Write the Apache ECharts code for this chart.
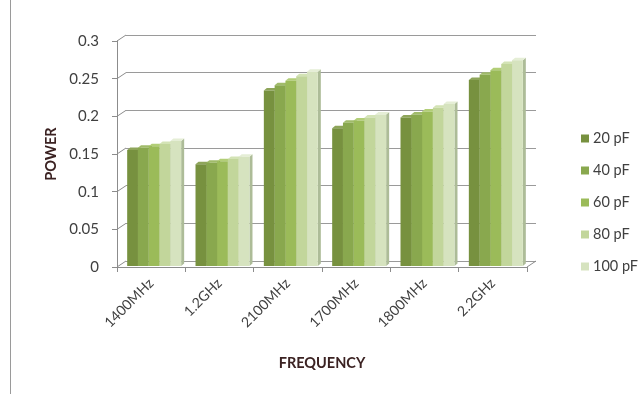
<!DOCTYPE html>
<html>
<head>
<meta charset="utf-8">
<script src="https://cdn.jsdelivr.net/npm/echarts@6/dist/echarts.min.js"></script>
<style>
  html, body { margin: 0; padding: 0; background: #ffffff; }
  #chart { width: 644px; height: 394px; }
</style>
</head>
<body>
<div id="chart"></div>
<script>
// Power per frequency band for five capacitor values
const categories = ['1400MHz', '1.2GHz', '2100MHz', '1700MHz', '1800MHz', '2.2GHz'];
const seriesNames = ['20 pF', '40 pF', '60 pF', '80 pF', '100 pF'];
const pf20  = [0.154, 0.135, 0.233, 0.183, 0.197, 0.247];
const pf40  = [0.157, 0.137, 0.240, 0.190, 0.201, 0.254];
const pf60  = [0.159, 0.139, 0.246, 0.193, 0.205, 0.260];
const pf80  = [0.162, 0.142, 0.252, 0.197, 0.210, 0.268];
const pf100 = [0.166, 0.145, 0.258, 0.201, 0.215, 0.273];
const yTicks = [0, 0.05, 0.1, 0.15, 0.2, 0.25, 0.3];

const seriesValues = [pf20, pf40, pf60, pf80, pf100];
const faceColors = ['#77913f', '#89a84e', '#9bbb59', '#c2d69b', '#d6e3bf'];
const sideColors = ['#5c7230', '#6c863c', '#7d9a45', '#9bb078', '#adbc98'];
const topColors  = ['#8ea55a', '#a0bb6a', '#b2ce77', '#d3e3b5', '#e5eed6'];

const FONT = 'Lato, "Open Sans", sans-serif';
const AXIS_GREY = '#8c8c8c';
// depth of the chart box and of each column
const WALL_DX = 9, WALL_DY = -6;
const BAR_DX = 3, BAR_DY = -1;
const DEPTH_X = 3, DEPTH_Y = -2.5;

function columnRenderer(s) {
  return function (params, api) {
    const ci = api.value(0);
    const v = api.value(1);
    const base = api.coord([ci, 0]);
    const top = api.coord([ci, v]);
    const band = api.size([1, 0])[0];
    const group = band * 0.79;
    const w = group / 5;
    const x0 = base[0] - group / 2 + s * w + BAR_DX;
    const x1 = x0 + w;
    const yb = base[1] + BAR_DY;
    const yt = top[1] + BAR_DY;
    return {
      type: 'group',
      children: [
        {
          type: 'polygon',
          shape: { points: [[x1, yt], [x1 + DEPTH_X, yt + DEPTH_Y], [x1 + DEPTH_X, yb + DEPTH_Y], [x1, yb]] },
          style: { fill: sideColors[s] }
        },
        {
          type: 'polygon',
          shape: { points: [[x0, yt], [x0 + DEPTH_X, yt + DEPTH_Y], [x1 + DEPTH_X, yt + DEPTH_Y], [x1, yt]] },
          style: { fill: topColors[s] }
        },
        {
          type: 'rect',
          shape: { x: x0, y: yt, width: w, height: yb - yt },
          style: { fill: faceColors[s] }
        }
      ]
    };
  };
}

// short diagonals joining the front axis to the back wall, plus the floor's right edge
function connectorRenderer(params, api) {
  const v = api.value(1);
  const cs = params.coordSys;
  const y = api.coord([0, v])[1];
  const children = [{
    type: 'line',
    shape: { x1: cs.x, y1: y, x2: cs.x + WALL_DX, y2: y + WALL_DY },
    style: { stroke: AXIS_GREY, lineWidth: 1 }
  }];
  if (v === 0) {
    children.push({
      type: 'line',
      shape: { x1: cs.x + cs.width, y1: y, x2: cs.x + cs.width + WALL_DX, y2: y + WALL_DY },
      style: { stroke: AXIS_GREY, lineWidth: 1 }
    });
  }
  return { type: 'group', children: children };
}

const chart = echarts.init(document.getElementById('chart'), null, { renderer: 'canvas' });

const series = seriesNames.map(function (name, s) {
  return {
    type: 'custom',
    name: name,
    xAxisIndex: 0,
    yAxisIndex: 0,
    renderItem: columnRenderer(s),
    itemStyle: { color: faceColors[s] },
    encode: { x: 0, y: 1 },
    data: seriesValues[s].map(function (v, i) { return [i, v]; }),
    z: 3
  };
});

series.push({
  type: 'custom',
  name: 'connectors',
  xAxisIndex: 0,
  yAxisIndex: 0,
  renderItem: connectorRenderer,
  encode: { x: 0, y: 1 },
  data: yTicks.map(function (t) { return [0, t]; }),
  silent: true,
  z: 1
});

const option = {
  backgroundColor: '#ffffff',
  animation: false,
  textStyle: { fontFamily: FONT },
  grid: [
    { left: 117, right: 117, top: 41, bottom: 127 },
    { left: 117 + WALL_DX, right: 117 - WALL_DX, top: 41 + WALL_DY, bottom: 127 - WALL_DY }
  ],
  xAxis: [
    {
      type: 'category', gridIndex: 0, data: categories,
      name: 'FREQUENCY', nameLocation: 'middle', nameGap: 89,
      nameTextStyle: { fontFamily: FONT, fontWeight: 'bold', fontSize: 14.5, color: '#3b2222' },
      axisLine: { lineStyle: { color: AXIS_GREY } },
      axisTick: { show: true, length: 5, lineStyle: { color: AXIS_GREY } },
      axisLabel: { rotate: 45, fontSize: 14, color: '#404040', margin: 14, fontFamily: FONT }
    },
    {
      type: 'category', gridIndex: 1, data: categories,
      show: false
    }
  ],
  yAxis: [
    {
      type: 'value', gridIndex: 0, min: 0, max: 0.3, interval: 0.05,
      name: 'POWER', nameLocation: 'middle', nameGap: 56,
      nameTextStyle: { fontFamily: FONT, fontWeight: 'bold', fontSize: 14.5, color: '#3b2222' },
      axisLine: { show: true, lineStyle: { color: AXIS_GREY } },
      axisTick: { show: true, length: 5, lineStyle: { color: AXIS_GREY } },
      splitLine: { show: false },
      axisLabel: { fontSize: 15, color: '#404040', margin: 18, fontFamily: FONT }
    },
    {
      type: 'value', gridIndex: 1, min: 0, max: 0.3, interval: 0.05,
      axisLine: { show: false }, axisTick: { show: false }, axisLabel: { show: false },
      splitLine: { show: true, lineStyle: { color: '#9a9a9a', width: 1 } }
    }
  ],
  legend: {
    orient: 'vertical',
    left: 576, top: 126,
    data: seriesNames,
    icon: 'rect',
    itemWidth: 8, itemHeight: 8,
    itemGap: 17,
    textStyle: { fontSize: 14.5, color: '#404040', fontFamily: FONT, padding: [0, 0, 0, -1] },
    selectedMode: false
  },
  graphic: [
    { type: 'line', shape: { x1: 10.5, y1: 0, x2: 10.5, y2: 394 }, style: { stroke: '#9a9a9a', lineWidth: 1 } }
  ],
  series: series
};

chart.setOption(option);
</script>
</body>
</html>
